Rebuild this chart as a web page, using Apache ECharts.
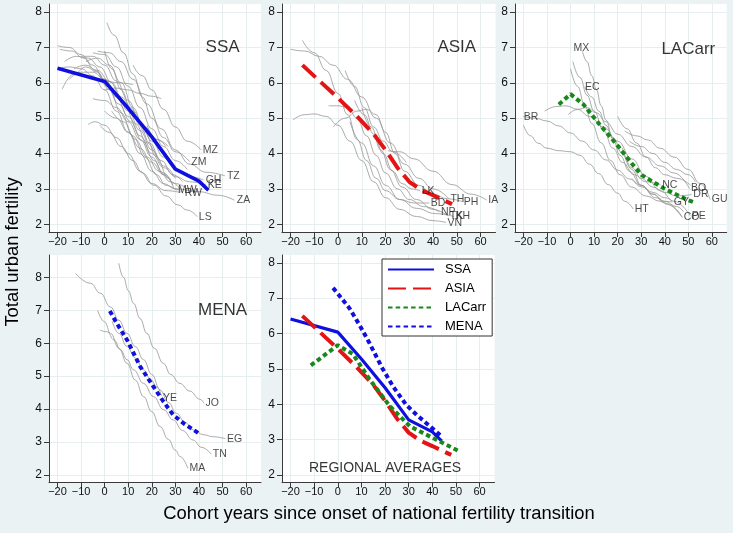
<!DOCTYPE html>
<html>
<head>
<meta charset="utf-8">
<script src="https://cdn.jsdelivr.net/npm/echarts@6/dist/echarts.min.js"></script>
<style>html,body{margin:0;padding:0;background:#eaf2f3;}#c{width:733px;height:533px;}</style>
</head>
<body>
<div id="c"></div>
<script>
// ---------- tick labels ----------
const xTicks = [-20, -10, 0, 10, 20, 30, 40, 50, 60];
const yTicks = [2, 3, 4, 5, 6, 7, 8];

// ---------- panel titles ----------
const panelTitles = ['SSA', 'ASIA', 'LACarr', 'MENA', 'REGIONAL AVERAGES'];
const panelTitlePos = [[50, 7.0], [50, 7.0], [50, 6.95], [50, 7.0], [20, 2.19]];

// ---------- regional averages ----------
const ssaAvg = [[-20, 6.41], [0, 6.04], [10, 5.28], [20, 4.47], [30, 3.56], [40, 3.22], [44, 2.96]];
const asiaAvg = [[-15, 6.5], [0, 5.57], [8, 5.05], [15, 4.55], [20, 4.1], [25, 3.6], [30, 3.2], [35, 2.97], [40, 2.82], [48, 2.57]];
const lacAvgPanel = [[-5, 5.39], [0, 5.68], [5.6, 5.38], [12, 4.85], [20.4, 4.19], [26, 3.72], [30.2, 3.39], [40, 3.0], [49.2, 2.7], [52, 2.63]];
const lacAvg = [[-11.4, 5.1], [0, 5.67], [6.4, 5.42], [13.5, 4.7], [22, 3.95], [30.5, 3.38], [41.9, 2.99], [51.8, 2.66]];
const menaAvgPanel = [[2.2, 6.98], [5, 6.62], [9.5, 6.1], [15, 5.3], [20.7, 4.68], [24.9, 4.23], [29.1, 3.82], [34, 3.54], [40.4, 3.24]];
const menaAvg = [[-2, 7.29], [0, 7.13], [5, 6.71], [9.2, 6.24], [13.5, 5.72], [18.5, 5.06], [23.4, 4.5], [29, 3.98], [33.4, 3.7], [37.6, 3.46], [43.3, 3.13]];

// ---------- country curves ----------
const ssaCurves = [
  [[12, 6.5], [16, 6.2], [20, 5.8], [25, 5.25], [30, 4.75], [35, 4.35], [41, 4.1]],
  [[1, 7.7], [4, 7.35], [8, 6.85], [12, 6.25], [16, 5.6], [20, 5.0], [25, 4.45], [30, 4.05], [36, 3.77]],
  [[-3, 6.9], [2, 6.85], [7, 6.6], [12, 6.1], [18, 5.4], [24, 4.7], [30, 4.1], [36, 3.7], [43, 3.47], [51, 3.37]],
  [[-10, 6.75], [-5, 6.75], [0, 6.5], [5, 6.05], [10, 5.5], [15, 4.9], [20, 4.35], [25, 3.9], [30, 3.55], [36, 3.35], [42, 3.25]],
  [[-20, 7.05], [-15, 7.0], [-10, 6.8], [-5, 6.5], [0, 6.1], [5, 5.6], [10, 5.05], [15, 4.5], [20, 4.0], [25, 3.6], [30, 3.35], [36, 3.2], [43, 3.11]],
  [[-20, 6.4], [-15, 6.45], [-10, 6.4], [-5, 6.2], [0, 5.8], [5, 5.2], [10, 4.6], [15, 4.0], [20, 3.5], [25, 3.15], [30, 3.0], [40, 2.92], [48, 2.82], [55, 2.68]],
  [[-18, 5.82], [-13, 6.25], [-8, 6.45], [-3, 6.3], [2, 5.8], [7, 5.15], [12, 4.5], [17, 3.9], [22, 3.4], [26, 3.1], [30.5, 2.96]],
  [[-8, 6.6], [-3, 6.7], [2, 6.5], [7, 6.0], [12, 5.3], [17, 4.6], [22, 3.9], [27, 3.3], [30, 3.0], [33.3, 2.87]],
  [[-2, 4.8], [2, 4.6], [7, 4.2], [12, 3.8], [16, 3.45], [21, 3.1], [26, 2.8], [31, 2.55], [35, 2.4], [39.3, 2.21]],
  [[-7, 4.82], [-4, 4.9], [0, 4.8], [5, 4.45], [10, 4.0], [15, 3.5], [20, 3.15], [26, 2.95], [32, 2.9]],
  [[-19, 6.95], [-14, 6.9], [-9, 6.7], [-4, 6.35], [1, 5.9], [6, 5.4], [11, 4.9], [16, 4.35], [21, 3.8], [25, 3.4], [29, 3.1]],
  [[-17, 6.6], [-12, 6.75], [-7, 6.7], [-2, 6.45], [3, 6.0], [8, 5.45], [13, 4.85], [18, 4.3], [22, 3.9]],
  [[-13, 6.4], [-8, 6.5], [-3, 6.35], [2, 6.05], [7, 5.6], [12, 5.2], [17, 4.75], [22, 4.4], [27, 4.2]],
  [[-5, 6.85], [0, 6.8], [5, 6.45], [10, 5.9], [15, 5.3], [20, 4.7], [25, 4.2], [30, 3.8], [35, 3.55]],
  [[0, 6.9], [3, 6.4], [7, 5.8], [11, 5.3], [15, 4.8], [19, 4.3], [24, 3.8], [29, 3.4], [33, 3.2]],
  [[0, 5.8], [5, 5.85], [10, 5.8], [15, 5.7], [20, 5.62], [24, 5.55]],
  [[-6, 6.2], [0, 6.05], [6, 6.0], [12, 5.95]],
  [[0, 5.2], [5, 5.0], [10, 4.6], [15, 4.15], [20, 3.75], [25, 3.4], [30, 3.15], [34, 3.05]],
  [[3, 5.2], [8, 4.9], [13, 4.4], [18, 3.9], [23, 3.5], [28, 3.2], [32, 3.0]],
  [[-15, 6.1], [-10, 6.3], [-5, 6.3], [0, 6.1], [5, 5.7], [10, 5.2], [15, 4.65], [20, 4.1], [25, 3.65], [30, 3.3]],
  [[18, 4.8], [22, 4.4], [26, 4.2]],
  [[-5, 5.55], [0, 5.5], [5, 5.3], [10, 4.9], [15, 4.4], [20, 3.9], [25, 3.45], [28, 3.25]]
];
const asiaCurves = [
  [[-20, 6.95], [-14, 6.9], [-8, 6.75], [-2, 6.5], [4, 6.1], [10, 5.6], [16, 5.0], [22, 4.3], [28, 3.7], [34, 3.3], [40, 3.0], [46.7, 2.72]],
  [[-15, 7.2], [-10, 6.85], [-5, 6.35], [0, 5.7], [4, 5.1], [8, 4.4], [12, 3.8], [16, 3.3], [20, 2.95], [26, 2.7], [32, 2.6], [38.4, 2.6]],
  [[-19, 4.95], [-14, 5.1], [-10, 5.12], [-5, 5.05], [0, 4.8], [5, 4.35], [10, 3.8], [15, 3.2], [20, 2.75], [26, 2.42], [33, 2.22], [40, 2.1], [45.5, 2.05]],
  [[-2, 4.75], [3, 5.0], [8, 5.2], [12, 5.25], [16, 5.1], [20, 4.6], [24, 4.0], [28, 3.5], [34, 3.1], [40, 2.85], [46, 2.72], [52.3, 2.64]],
  [[-4, 5.35], [0, 5.35], [4, 5.3], [8, 5.0], [12, 4.5], [16, 3.95], [20, 3.45], [25, 3.0], [30, 2.7], [36, 2.5], [42.7, 2.35]],
  [[3, 6.35], [7, 5.9], [11, 5.3], [15, 4.75], [19, 4.35], [23, 4.05], [28.7, 3.75]],
  [[7, 5.5], [11, 5.1], [15, 4.55], [19, 4.0], [23, 3.5], [27, 3.15], [31, 3.0], [34.6, 2.94]],
  [[21, 4.08], [26, 4.05], [32, 3.85], [40, 3.5], [48, 3.12], [56, 2.85], [62.6, 2.68]],
  [[10, 5.3], [14, 4.75], [18, 4.1], [22, 3.55], [27, 3.05], [33, 2.7], [40, 2.42], [46.4, 2.23]],
  [[5, 4.9], [10, 4.3], [15, 3.65], [20, 3.1], [26, 2.7], [33, 2.45], [41, 2.3], [48.8, 2.22]]
];
const lacCurves = [
  [[-20, 5.05], [-15, 5.0], [-10, 4.92], [-5, 4.78], [0, 4.58], [5, 4.35], [10, 4.1], [15, 3.82], [20, 3.53], [25, 3.28], [30, 3.06], [35, 2.9], [40, 2.75], [43.2, 2.65]],
  [[-20, 4.8], [-17, 4.5], [-14, 4.3], [-10, 4.15], [-5, 4.08], [0, 4.05], [4, 3.95], [8, 3.7], [12, 3.43], [16, 3.12], [20, 2.88], [23, 2.65], [26.6, 2.43]],
  [[-11, 5.2], [-6, 5.33], [-2, 5.35], [3, 5.25], [8, 5.05], [14, 4.75], [20, 4.35], [26, 3.85], [32, 3.35], [38, 2.95], [44, 2.65], [50.8, 2.24]],
  [[-1, 5.1], [3, 5.25], [7, 5.3], [11, 5.15], [15, 4.9], [20, 4.55], [26, 4.2], [32, 3.9], [38, 3.65], [44, 3.45], [50.5, 3.01]],
  [[5, 6.9], [7, 6.6], [9, 6.2], [11, 5.8], [13, 5.35], [15, 4.95], [18, 4.4], [21, 3.95], [25, 3.5], [30, 3.1], [35, 2.85], [40, 2.6], [47.4, 2.19]],
  [[1, 6.6], [4, 6.15], [7, 5.65], [10, 5.2], [14, 4.65], [18, 4.15], [22, 3.75], [27, 3.4], [32, 3.2], [38.3, 3.11]],
  [[0, 6.4], [3, 5.9], [6, 5.35], [9, 4.85], [13, 4.3], [17, 3.8], [21, 3.4], [26, 3.05], [32, 2.8], [38, 2.65], [43.2, 2.63]],
  [[6, 5.9], [9, 5.6], [12, 5.2], [15, 4.8], [18, 4.45], [22, 4.0], [26, 3.6], [30, 3.3], [35, 3.05], [40, 2.9], [45, 2.8], [51.5, 2.84]],
  [[20, 5.05], [24, 4.7], [28, 4.3], [32, 3.9], [36, 3.6], [40, 3.4], [45, 3.3], [51, 3.1]],
  [[23, 4.64], [28, 4.5], [33, 4.38], [38, 4.15], [44, 3.9], [50, 3.55], [55, 3.15], [59.3, 2.7]],
  [[25, 4.35], [30, 4.2], [35, 4.0], [40, 3.75], [45, 3.55], [50, 3.4], [53, 3.2]],
  [[26, 3.3], [30, 3.1], [35, 2.85], [40, 2.65], [45, 2.5], [48, 2.35]],
  [[22, 4.15], [26, 3.55], [30, 3.1], [36, 2.75], [42, 2.55], [47.4, 2.2]]
];
const menaCurves = [
  [[6, 8.43], [8, 8.0], [10, 7.6], [12.3, 7.21], [15, 6.75], [17.9, 6.3], [21, 5.85], [24.9, 5.39], [28, 5.05], [31.9, 4.78], [36, 4.55], [40.4, 4.3], [42.1, 4.18]],
  [[-12.3, 8.12], [-6, 7.82], [-1.8, 7.52], [2.5, 7.1], [6, 6.7], [9.5, 6.3], [13, 5.9], [16.5, 5.5], [20, 5.05], [23.5, 4.58], [27, 4.2], [30.5, 3.87], [34, 3.6], [37.5, 3.37], [42, 3.22], [46, 3.16], [51.2, 3.1]],
  [[-2, 6.4], [1, 6.35], [4, 6.1], [6.7, 5.8], [9.5, 5.5], [12.3, 5.19], [16.5, 4.78], [20.7, 4.38], [25, 3.98], [29.1, 3.67], [33, 3.35], [37.5, 3.06], [41, 2.84], [45.2, 2.63]],
  [[-3, 7.0], [0, 6.65], [2.5, 6.3], [6, 5.85], [9.5, 5.39], [13, 4.88], [16.5, 4.38], [20, 3.92], [23.5, 3.47], [27, 3.08], [30, 2.75], [32, 2.56], [35.3, 2.2]],
  [[3.2, 6.66], [6, 6.3], [9.5, 5.9], [13, 5.55], [16.5, 5.19], [19.5, 4.9], [22.1, 4.68], [24.1, 4.4]]
];

// ---------- country labels: [code, x, y] ----------
const ssaLabels = [['MZ', 41, 4.1], ['ZM', 36.1, 3.77], ['TZ', 51.2, 3.37], ['GH', 42.2, 3.25], ['KE', 43.1, 3.11], ['ZA', 55.4, 2.68], ['MW', 30.5, 2.96], ['RW', 33.3, 2.87], ['LS', 39.3, 2.21]];
const asiaLabels = [['LK', 34.6, 2.94], ['TH', 46.7, 2.7], ['PH', 52.3, 2.63], ['IA', 62.6, 2.68], ['BD', 38.4, 2.6], ['NP', 42.7, 2.33], ['TK', 46.4, 2.23], ['KH', 48.8, 2.23], ['VN', 45.5, 2.04]];
const lacLabels = [['MX', 0.6, 6.98], ['EC', 5.5, 5.89], ['BR', -20.5, 5.02], ['NC', 38.3, 3.11], ['BO', 50.5, 3.01], ['DR', 51.5, 2.84], ['GU', 59.3, 2.7], ['GY', 43.2, 2.63], ['HT', 26.6, 2.43], ['CO', 47.4, 2.19], ['PE', 50.8, 2.24]];
const menaLabels = [['YE', 24.1, 4.32], ['JO', 42.1, 4.18], ['EG', 51.2, 3.1], ['TN', 45.2, 2.63], ['MA', 35.3, 2.2]];

// ---------- layout / style (not data) ----------
const grids = [
  {left: 49, top: 4, width: 212, height: 228},
  {left: 282, top: 4, width: 213.5, height: 228},
  {left: 515, top: 4, width: 211.7, height: 228},
  {left: 49, top: 255, width: 212, height: 227.5},
  {left: 282, top: 255, width: 212.5, height: 227.5}
];
const yRanges = [[1.78, 8.23], [1.78, 8.23], [1.78, 8.23], [1.77, 8.68], [1.79, 8.22]];
const xRange = [-23.6, 66.3];
const BLUE = '#0f0fe0', RED = '#e41414', GREEN = '#17881a', GRAY = '#959595';
const styles = {
  SSA: {color: BLUE, width: 3.6, type: 'solid'},
  ASIA: {color: RED, width: 4, type: [18, 7]},
  LACarr: {color: GREEN, width: 4, type: [4.5, 3.2]},
  MENA: {color: BLUE, width: 4, type: [4.5, 3.3]}
};
const TICK_FONT = "'Liberation Sans',Arial,sans-serif";
const FONT = "'Liberation Sans',Arial,sans-serif";
const CLEAR = 'rgba(0,0,0,0)';

const xAxes = grids.map((g, i) => ({
  type: 'value', gridIndex: i, min: xRange[0], max: xRange[1],
  axisLine: {show: true, onZero: false, lineStyle: {color: '#3a3a3a', width: 1}},
  axisTick: {show: true, length: 5, customValues: xTicks, lineStyle: {color: '#3a3a3a'}},
  axisLabel: {customValues: xTicks, margin: 4, fontSize: 11, color: '#111', fontFamily: TICK_FONT,
    formatter: v => String(v).replace('-', '\u2212')},
  splitLine: {show: true, lineStyle: {color: '#e6eef0', width: 1}}
}));
const yAxes = grids.map((g, i) => ({
  type: 'value', gridIndex: i, min: yRanges[i][0], max: yRanges[i][1],
  axisLine: {show: true, onZero: false, lineStyle: {color: '#3a3a3a', width: 1}},
  axisTick: {show: true, length: 5, customValues: yTicks, lineStyle: {color: '#3a3a3a'}},
  axisLabel: {customValues: yTicks, margin: 7, fontSize: 12, color: '#111', fontFamily: TICK_FONT},
  splitLine: {show: true, lineStyle: {color: '#e6eef0', width: 1}}
}));

const series = [];
function addCurves(curves, idx) {
  curves.forEach(c => series.push({
    type: 'line', xAxisIndex: idx, yAxisIndex: idx, data: c, smooth: 0.45, smoothMonotone: 'x',
    symbol: 'none', silent: true, z: 2, lineStyle: {color: GRAY, width: 0.8}
  }));
}
function addAvg(name, data, idx, widthOverride) {
  const s = styles[name];
  series.push({
    type: 'line', name: name, xAxisIndex: idx, yAxisIndex: idx, data: data, symbol: 'none', z: 4,
    lineStyle: {color: s.color, width: widthOverride || s.width, type: s.type, cap: 'butt'},
    itemStyle: {color: s.color}
  });
}
function addLabels(labels, idx) {
  series.push({
    type: 'scatter', xAxisIndex: idx, yAxisIndex: idx, silent: true, z: 5,
    data: labels.map(l => [l[1], l[2], l[0]]), symbolSize: 1, itemStyle: {color: CLEAR},
    label: {show: true, position: 'right', distance: 1, formatter: p => p.data[2],
      fontSize: 10.5, color: '#1a1a1a', fontFamily: FONT}
  });
}
function addTitle(idx, size) {
  const p = panelTitlePos[idx];
  series.push({
    type: 'scatter', xAxisIndex: idx, yAxisIndex: idx, silent: true, z: 5,
    data: [[p[0], p[1], panelTitles[idx]]], symbolSize: 1, itemStyle: {color: CLEAR},
    label: {show: true, position: 'inside', formatter: q => q.data[2], fontSize: size,
      color: '#000', fontFamily: FONT, textBorderWidth: 0}
  });
}

addCurves(ssaCurves, 0); addAvg('SSA', ssaAvg, 0); addLabels(ssaLabels, 0); addTitle(0, 17);
addCurves(asiaCurves, 1); addAvg('ASIA', asiaAvg, 1); addLabels(asiaLabels, 1); addTitle(1, 17);
addCurves(lacCurves, 2); addAvg('LACarr', lacAvgPanel, 2); addLabels(lacLabels, 2); addTitle(2, 17);
addCurves(menaCurves, 3); addAvg('MENA', menaAvgPanel, 3); addLabels(menaLabels, 3); addTitle(3, 17);
addAvg('SSA', ssaAvg, 4, 3.2); addAvg('ASIA', asiaAvg, 4); addAvg('LACarr', lacAvg, 4); addAvg('MENA', menaAvg, 4);
addTitle(4, 14);

const chart = echarts.init(document.getElementById('c'), null, {renderer: 'canvas'});
chart.setOption({
  animation: false,
  backgroundColor: '#eaf2f3',
  grid: grids.map(g => Object.assign({show: true, backgroundColor: '#ffffff', borderWidth: 0, containLabel: false}, g)),
  xAxis: xAxes,
  yAxis: yAxes,
  legend: {
    data: ['SSA', 'ASIA', 'LACarr', 'MENA'], orient: 'vertical', left: 382, top: 259,
    itemWidth: 46, itemHeight: 14, itemGap: 6, padding: [4, 6, 3, 5],
    backgroundColor: '#ffffff', borderColor: '#333', borderWidth: 1, borderRadius: 0,
    selectedMode: false,
    itemStyle: {opacity: 0, color: CLEAR, borderWidth: 0},
    textStyle: {fontSize: 13, color: '#000', fontFamily: FONT, padding: [0, 0, 0, 6]}
  },
  graphic: [
    {type: 'text', x: 13, y: 252, rotation: Math.PI / 2,
      style: {text: 'Total urban fertility', font: "18.4px 'Liberation Sans', Arial, sans-serif", fill: '#000',
        align: 'center', verticalAlign: 'middle', textAlign: 'center', textVerticalAlign: 'middle'}},
    {type: 'text', x: 379, y: 514,
      style: {text: 'Cohort years since onset of national fertility transition', font: "18.4px 'Liberation Sans', Arial, sans-serif", fill: '#000',
        align: 'center', verticalAlign: 'middle', textAlign: 'center', textVerticalAlign: 'middle'}}
  ],
  series: series
});
</script>
</body>
</html>
